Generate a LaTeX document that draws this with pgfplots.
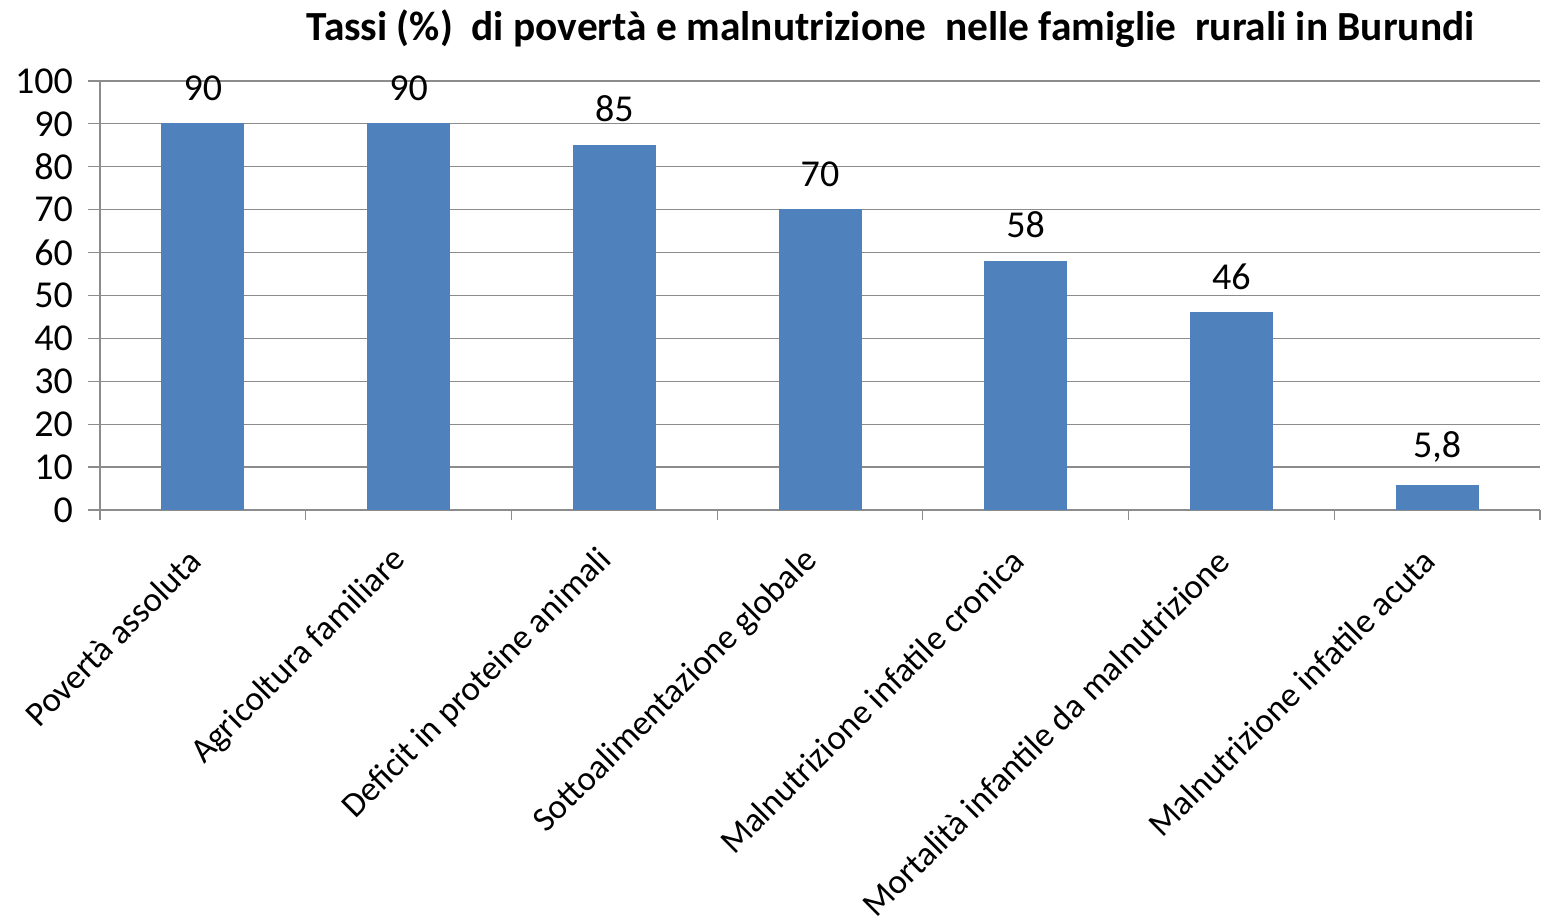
\documentclass[border=0pt]{standalone}
\usepackage{pgfplots}
\pgfplotsset{compat=1.18}
\usepackage{fontspec}
\setmainfont{Carlito}
\definecolor{barc}{HTML}{4F81BD}
\definecolor{gridc}{HTML}{8C8C8C}
\begin{document}
\begin{tikzpicture}
\path[use as bounding box] (0,0) rectangle (771pt,460pt);
\begin{axis}[
 at={(50pt,205pt)}, anchor=south west,
 scale only axis, width=720pt, height=214.5pt,
 xmin=-0.5, xmax=6.5, ymin=0, ymax=100,
 ytick={0,10,...,100},
 xtick={0,...,6},
 xticklabels={Povertà assoluta, Agricoltura familiare, Deficit in proteine animali, Sottoalimentazione globale, Malnutrizione infatile cronica, Mortalità infantile da malnutrizione, Malnutrizione infatile acuta},
 minor xtick={-0.5,0.5,...,6.5},
 axis x line*=bottom, axis y line*=left,
 ymajorgrids, grid style={gridc, line width=0.6pt},
 axis line style={gridc, line width=0.6pt},
 tick align=outside, major tick length=6pt, minor tick length=5pt,
 tick style={gridc, line width=0.6pt},
 major x tick style={draw=none},
 /pgf/number format/assume math mode=true,
 yticklabel style={font=\fontsize{19}{21}\selectfont, text=black, xshift=-4pt},
 xticklabel style={font=\fontsize{17.4}{20}\selectfont, text=black, rotate=45, anchor=east, yshift=-9pt, xshift=-11pt},
 title={Tassi (\%)\ \ di povertà e malnutrizione\ \ nelle famiglie\ \ rurali in Burundi},
 title style={font=\bfseries\fontsize{20.7}{24}\selectfont, at={(0.549,1)}, anchor=center, yshift=20pt},
 ybar, bar width=41pt,
 nodes near coords={\pgfmathprintnumber[assume math mode=true,use comma]{\pgfplotspointmeta}},
 nodes near coords style={font=\fontsize{19}{21}\selectfont, text=black, anchor=south, yshift=8pt},
]
\addplot[fill=barc, draw=barc] coordinates {(0,90) (1,90) (2,85) (3,70) (4,58) (5,46) (6,5.8)};
\end{axis}
\end{tikzpicture}
\end{document}
